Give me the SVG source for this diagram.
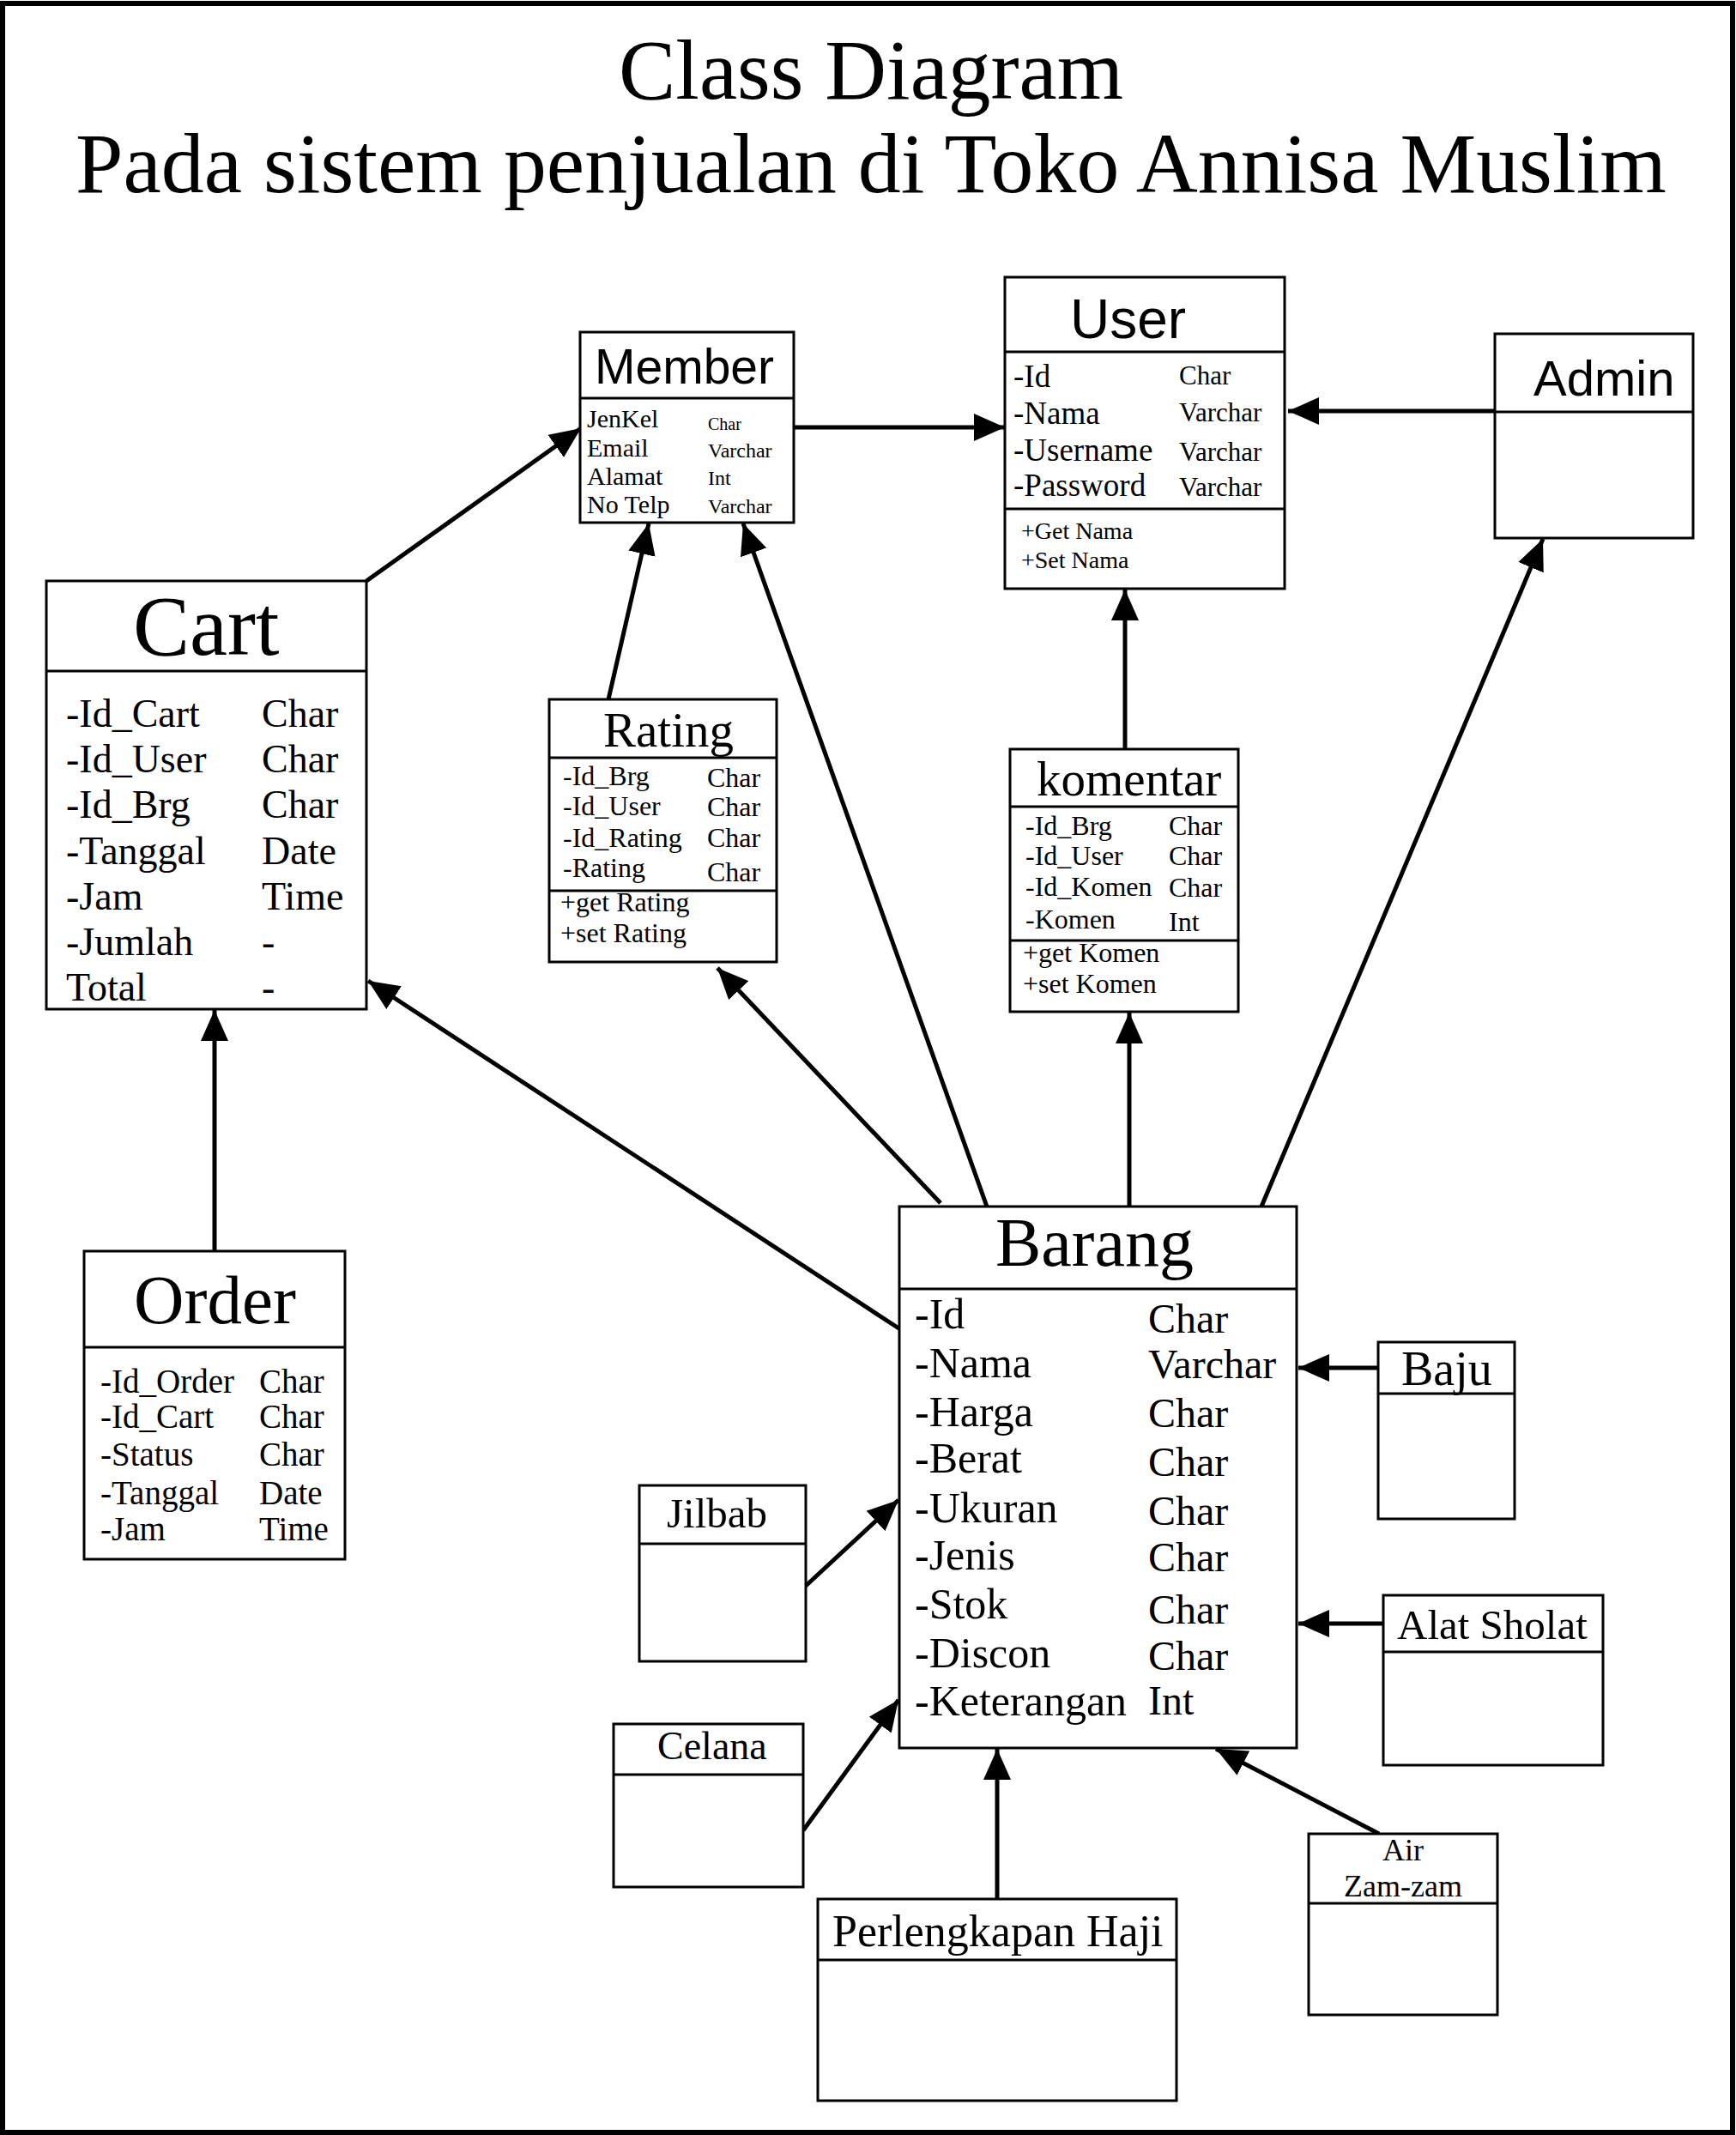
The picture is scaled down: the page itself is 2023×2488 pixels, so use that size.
<svg xmlns="http://www.w3.org/2000/svg" width="2023" height="2488" viewBox="0 0 2023 2488">
<style>
.box{fill:#fff;stroke:#000;stroke-width:3}
.div{stroke:#000;stroke-width:3}
.serif{font-family:"Liberation Serif","Times New Roman",serif;fill:#000}
.sans{font-family:"Liberation Sans",Arial,sans-serif;fill:#000}
.conn{stroke:#000;stroke-width:5;fill:none;marker-end:url(#arrow)}
</style>
<defs>
<marker id="arrow" viewBox="0 0 36 32" refX="36" refY="16" markerWidth="36" markerHeight="32" markerUnits="userSpaceOnUse" orient="auto">
<path d="M0,0 L36,16 L0,32 z" fill="#000"/>
</marker>
</defs>
<rect x="0" y="0" width="2023" height="2488" fill="#fff"/>
<rect x="3" y="4" width="2016" height="2481" fill="none" stroke="#000" stroke-width="6"/>
<g id="title">
<text class="serif" x="1015" y="115" font-size="99" text-anchor="middle" textLength="588" lengthAdjust="spacingAndGlyphs">Class Diagram</text>
<text class="serif" x="1015" y="224" font-size="99" text-anchor="middle" textLength="1854" lengthAdjust="spacingAndGlyphs">Pada sistem penjualan di Toko Annisa Muslim</text>
</g>
<g id="connectors">
<line class="conn" x1="925" y1="498" x2="1171" y2="498"/>
<line class="conn" x1="1742" y1="479" x2="1501" y2="479"/>
<line class="conn" x1="427" y1="677" x2="677" y2="499"/>
<line class="conn" x1="709" y1="815" x2="756" y2="610"/>
<line class="conn" x1="1150" y1="1406" x2="866" y2="610"/>
<line class="conn" x1="1311" y1="873" x2="1311" y2="687"/>
<line class="conn" x1="1316" y1="1406" x2="1316" y2="1180"/>
<line class="conn" x1="1470" y1="1406" x2="1798" y2="628"/>
<line class="conn" x1="250" y1="1458" x2="250" y2="1177"/>
<line class="conn" x1="1049" y1="1549" x2="429" y2="1143"/>
<line class="conn" x1="1096" y1="1402" x2="836" y2="1128"/>
<line class="conn" x1="939" y1="1848" x2="1047" y2="1748"/>
<line class="conn" x1="936" y1="2133" x2="1047" y2="1981"/>
<line class="conn" x1="1606" y1="1594" x2="1513" y2="1594"/>
<line class="conn" x1="1612" y1="1892" x2="1513" y2="1892"/>
<line class="conn" x1="1162" y1="2213" x2="1162" y2="2038"/>
<line class="conn" x1="1607" y1="2137" x2="1417" y2="2038"/>
</g>
<g id="member">
<rect class="box" x="676" y="387" width="249" height="222"/>
<line class="div" x1="676" y1="464" x2="925" y2="464"/>
<text class="sans" x="693" y="447" font-size="57">Member</text>
<g class="serif" font-size="30">
<text x="684" y="498">JenKel</text>
<text x="684" y="532">Email</text>
<text x="684" y="565">Alamat</text>
<text x="684" y="598">No Telp</text>
</g>
<g class="serif" font-size="24">
<text x="825" y="501" font-size="20">Char</text>
<text x="825" y="533">Varchar</text>
<text x="825" y="565">Int</text>
<text x="825" y="598">Varchar</text>
</g>
</g>
<g id="user">
<rect class="box" x="1171" y="323" width="326" height="363"/>
<line class="div" x1="1171" y1="410" x2="1497" y2="410"/>
<line class="div" x1="1171" y1="593" x2="1497" y2="593"/>
<text class="sans" x="1247" y="394" font-size="64">User</text>
<g class="serif" font-size="37">
<text x="1181" y="451">-Id</text>
<text x="1181" y="494">-Nama</text>
<text x="1181" y="537">-Username</text>
<text x="1181" y="578">-Password</text>
</g>
<g class="serif" font-size="31">
<text x="1374" y="448">Char</text>
<text x="1374" y="491">Varchar</text>
<text x="1374" y="537">Varchar</text>
<text x="1374" y="578">Varchar</text>
</g>
<g class="serif" font-size="28">
<text x="1190" y="628">+Get Nama</text>
<text x="1190" y="662">+Set Nama</text>
</g>
</g>
<g id="admin">
<rect class="box" x="1742" y="389" width="231" height="238"/>
<line class="div" x1="1742" y1="480" x2="1973" y2="480"/>
<text class="sans" x="1787" y="461" font-size="58">Admin</text>
</g>
<g id="cart">
<rect class="box" x="54" y="677" width="373" height="499"/>
<line class="div" x1="54" y1="782" x2="427" y2="782"/>
<text class="serif" x="155" y="763" font-size="99">Cart</text>
<g class="serif" font-size="46">
<text x="77" y="847">-Id_Cart</text>
<text x="77" y="900">-Id_User</text>
<text x="77" y="953">-Id_Brg</text>
<text x="77" y="1007">-Tanggal</text>
<text x="77" y="1060">-Jam</text>
<text x="77" y="1113">-Jumlah</text>
<text x="77" y="1166">Total</text>
<text x="305" y="847">Char</text>
<text x="305" y="900">Char</text>
<text x="305" y="953">Char</text>
<text x="305" y="1007">Date</text>
<text x="305" y="1060">Time</text>
<text x="305" y="1113">-</text>
<text x="305" y="1166">-</text>
</g>
</g>
<g id="rating">
<rect class="box" x="640" y="815" width="265" height="306"/>
<line class="div" x1="640" y1="883" x2="905" y2="883"/>
<line class="div" x1="640" y1="1038" x2="905" y2="1038"/>
<text class="serif" x="703" y="870" font-size="57">Rating</text>
<g class="serif" font-size="32">
<text x="656" y="915">-Id_Brg</text>
<text x="656" y="950">-Id_User</text>
<text x="656" y="987">-Id_Rating</text>
<text x="656" y="1022">-Rating</text>
<text x="824" y="917">Char</text>
<text x="824" y="951">Char</text>
<text x="824" y="987">Char</text>
<text x="824" y="1027">Char</text>
<text x="653" y="1062">+get Rating</text>
<text x="653" y="1098">+set Rating</text>
</g>
</g>
<g id="komentar">
<rect class="box" x="1177" y="873" width="266" height="306"/>
<line class="div" x1="1177" y1="940" x2="1443" y2="940"/>
<line class="div" x1="1177" y1="1096" x2="1443" y2="1096"/>
<text class="serif" x="1208" y="927" font-size="57">komentar</text>
<g class="serif" font-size="32">
<text x="1195" y="973">-Id_Brg</text>
<text x="1195" y="1008">-Id_User</text>
<text x="1195" y="1044">-Id_Komen</text>
<text x="1195" y="1082">-Komen</text>
<text x="1362" y="973">Char</text>
<text x="1362" y="1008">Char</text>
<text x="1362" y="1045">Char</text>
<text x="1362" y="1085">Int</text>
<text x="1192" y="1121">+get Komen</text>
<text x="1192" y="1157">+set Komen</text>
</g>
</g>
<g id="order">
<rect class="box" x="98" y="1458" width="304" height="359"/>
<line class="div" x1="98" y1="1570" x2="402" y2="1570"/>
<text class="serif" x="156" y="1542" font-size="81">Order</text>
<g class="serif" font-size="39">
<text x="117" y="1623">-Id_Order</text>
<text x="117" y="1664">-Id_Cart</text>
<text x="117" y="1708">-Status</text>
<text x="117" y="1753">-Tanggal</text>
<text x="117" y="1795">-Jam</text>
<text x="302" y="1623">Char</text>
<text x="302" y="1664">Char</text>
<text x="302" y="1708">Char</text>
<text x="302" y="1753">Date</text>
<text x="302" y="1795">Time</text>
</g>
</g>
<g id="barang">
<rect class="box" x="1048" y="1406" width="463" height="631"/>
<line class="div" x1="1048" y1="1502" x2="1511" y2="1502"/>
<text class="serif" x="1160" y="1475" font-size="80">Barang</text>
<g class="serif" font-size="50">
<text x="1066" y="1548">-Id</text>
<text x="1066" y="1605">-Nama</text>
<text x="1066" y="1662">-Harga</text>
<text x="1066" y="1716">-Berat</text>
<text x="1066" y="1774">-Ukuran</text>
<text x="1066" y="1829">-Jenis</text>
<text x="1066" y="1886">-Stok</text>
<text x="1066" y="1943">-Discon</text>
<text x="1066" y="1999">-Keterangan</text>
</g>
<g class="serif" font-size="48">
<text x="1338" y="1553">Char</text>
<text x="1338" y="1606">Varchar</text>
<text x="1338" y="1663">Char</text>
<text x="1338" y="1720">Char</text>
<text x="1338" y="1777">Char</text>
<text x="1338" y="1831">Char</text>
<text x="1338" y="1892">Char</text>
<text x="1338" y="1946">Char</text>
<text x="1338" y="1998">Int</text>
</g>
</g>
<g id="jilbab">
<rect class="box" x="745" y="1731" width="194" height="205"/>
<line class="div" x1="745" y1="1799" x2="939" y2="1799"/>
<text class="serif" x="777" y="1780" font-size="49">Jilbab</text>
</g>
<g id="celana">
<rect class="box" x="715" y="2009" width="221" height="190"/>
<line class="div" x1="715" y1="2068" x2="936" y2="2068"/>
<text class="serif" x="766" y="2050" font-size="46">Celana</text>
</g>
<g id="baju">
<rect class="box" x="1606" y="1564" width="159" height="206"/>
<line class="div" x1="1606" y1="1624" x2="1765" y2="1624"/>
<text class="serif" x="1633" y="1614" font-size="56">Baju</text>
</g>
<g id="alat-sholat">
<rect class="box" x="1612" y="1859" width="256" height="198"/>
<line class="div" x1="1612" y1="1925" x2="1868" y2="1925"/>
<text class="serif" x="1628" y="1910" font-size="49">Alat Sholat</text>
</g>
<g id="perlengkapan-haji">
<rect class="box" x="953" y="2213" width="418" height="235"/>
<line class="div" x1="953" y1="2284" x2="1371" y2="2284"/>
<text class="serif" x="970" y="2268" font-size="52">Perlengkapan Haji</text>
</g>
<g id="air-zamzam">
<rect class="box" x="1525" y="2137" width="220" height="211"/>
<line class="div" x1="1525" y1="2218" x2="1745" y2="2218"/>
<text class="serif" x="1635" y="2168" font-size="36" text-anchor="middle">Air</text>
<text class="serif" x="1635" y="2210" font-size="36" text-anchor="middle">Zam-zam</text>
</g>
</svg>
